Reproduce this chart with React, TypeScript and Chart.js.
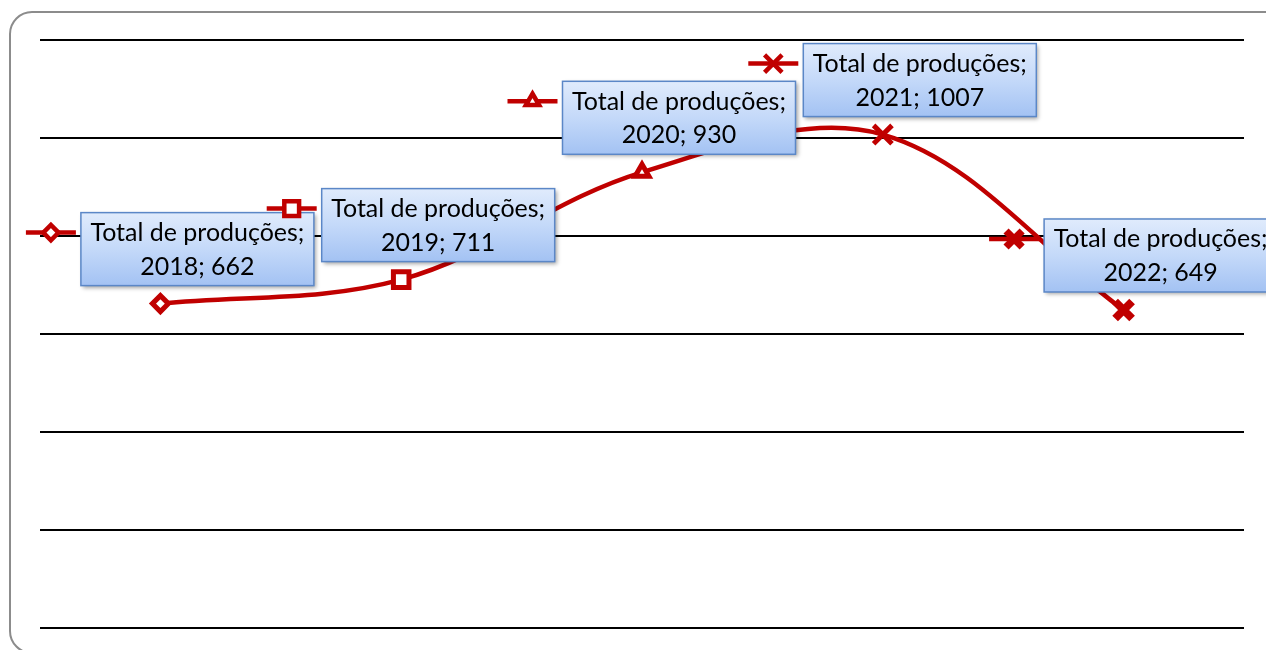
import React, { useEffect, useRef } from 'react';
import { Chart, registerables } from 'chart.js';
import { drawPoint } from 'chart.js/helpers';

Chart.register(...registerables);

// ---- data ----
const years: string[] = ['2018', '2019', '2020', '2021', '2022'];
const totals: number[] = [662, 711, 930, 1007, 649];
const seriesName = 'Total de produções';
const yMin = 0;
const yMax = 1200;
const yStep = 200;

// ---- styling ----
const RED = '#c00000';
const markerStyles: any[] = ['rectRot', 'rect', 'triangle', 'crossRot', 'crossRot'];
const markerRadii: number[] = [8, 11, 8, 13, 12];
const markerBorderWidths: number[] = [5, 5, 5, 5, 8];
const markerFills: string[] = ['#ffffff', '#ffffff', '#ffffff', RED, RED];
const FONT_FAMILY = 'Lato, "Noto Sans", sans-serif';

const framePlugin = {
  id: 'frame',
  beforeDraw(chart: any) {
    const ctx = chart.ctx as CanvasRenderingContext2D;
    ctx.save();
    ctx.strokeStyle = '#8c8c8c';
    ctx.lineWidth = 2;
    ctx.beginPath();
    (ctx as any).roundRect(10, 12, 1320, 641, 22);
    ctx.stroke();
    ctx.restore();
  },
};

const labelPlugin = {
  id: 'calloutLabels',
  afterDraw(chart: any) {
    const ctx = chart.ctx as CanvasRenderingContext2D;
    const meta = chart.getDatasetMeta(0);
    const ds = chart.data.datasets[0];
    ctx.save();
    // fit font to Excel's Calibri width
    ctx.font = `28px ${FONT_FAMILY}`;
    const ref = ctx.measureText(seriesName + ';').width;
    const fontSize = Math.min(28, (28 * 214) / ref);
    ctx.font = `${fontSize}px ${FONT_FAMILY}`;

    meta.data.forEach((pt: any, i: number) => {
      const lines = [seriesName + ';', `${chart.data.labels[i]}; ${ds.data[i]}`];
      const w = 233;
      const h = 73;
      const cx = pt.x + 37;
      const cy = pt.y - 54.5;
      const left = cx - w / 2;
      const top = cy - h / 2;

      // legend key
      const kx = left - 30;
      const ky = top + 20;
      ctx.save();
      ctx.strokeStyle = RED;
      ctx.lineWidth = 4.5;
      ctx.beginPath();
      ctx.moveTo(kx - 25, ky);
      ctx.lineTo(kx + 25, ky);
      ctx.stroke();
      ctx.fillStyle = markerFills[i];
      ctx.strokeStyle = RED;
      ctx.lineWidth = markerBorderWidths[i] * 0.9;
      drawPoint(ctx, {
        pointStyle: markerStyles[i],
        radius: markerRadii[i] * 0.95,
        borderWidth: markerBorderWidths[i] * 0.9,
        rotation: 0,
      } as any, kx, ky);
      ctx.restore();

      // box with shadow
      ctx.save();
      ctx.shadowColor = 'rgba(0,0,0,0.35)';
      ctx.shadowBlur = 4;
      ctx.shadowOffsetX = 2;
      ctx.shadowOffsetY = 2;
      const g = ctx.createLinearGradient(0, top, 0, top + h);
      g.addColorStop(0, '#e0ebfc');
      g.addColorStop(0.5, '#c4d9f9');
      g.addColorStop(1, '#a3c2f3');
      ctx.fillStyle = g;
      ctx.fillRect(left, top, w, h);
      ctx.restore();
      ctx.save();
      ctx.strokeStyle = '#5b87c7';
      ctx.lineWidth = 1.5;
      ctx.strokeRect(left, top, w, h);
      ctx.restore();

      // text
      ctx.fillStyle = '#000000';
      ctx.textAlign = 'center';
      ctx.textBaseline = 'alphabetic';
      ctx.fillText(lines[0], cx, top + 28.5);
      ctx.fillText(lines[1], cx, top + 62);
    });
    ctx.restore();
  },
};

export default function App() {
  const canvasRef = useRef<HTMLCanvasElement | null>(null);

  useEffect(() => {
    document.body.style.margin = '0';
    const canvas = canvasRef.current;
    if (!canvas) return;
    const chart = new Chart(canvas, {
      type: 'line',
      data: {
        labels: years,
        datasets: [
          {
            label: seriesName,
            data: totals,
            borderColor: RED,
            borderWidth: 4.5,
            tension: 0.35,
            fill: false,
            pointStyle: markerStyles,
            pointRadius: markerRadii,
            pointHoverRadius: markerRadii,
            pointBorderWidth: markerBorderWidths,
            pointBackgroundColor: markerFills,
            pointBorderColor: RED,
          } as any,
        ],
      },
      options: {
        animation: false,
        responsive: false,
        layout: { padding: { left: 40, right: 22, top: 40, bottom: 22 } },
        plugins: {
          legend: { display: false },
          tooltip: { enabled: false },
        },
        scales: {
          x: { display: false, offset: true },
          y: {
            min: yMin,
            max: yMax,
            ticks: { stepSize: yStep, display: false },
            grid: { color: '#000000', lineWidth: 2, drawTicks: false },
            border: { display: false },
            afterFit: (s: any) => {
              s.width = 0;
            },
          },
        },
      } as any,
      plugins: [framePlugin, labelPlugin],
    });
    let alive = true;
    if ((document as any).fonts && (document as any).fonts.load) {
      (document as any).fonts.load(`26px Lato`).then(() => {
        if (alive) chart.update();
      }).catch(() => {});
    }
    return () => {
      alive = false;
      chart.destroy();
    };
  }, []);

  return (
    <div style={{ position: 'fixed', left: 0, top: 0, width: 1266, height: 650, background: '#ffffff' }}>
      <canvas ref={canvasRef} width={1266} height={650} style={{ display: 'block', width: 1266, height: 650 }} />
    </div>
  );
}
